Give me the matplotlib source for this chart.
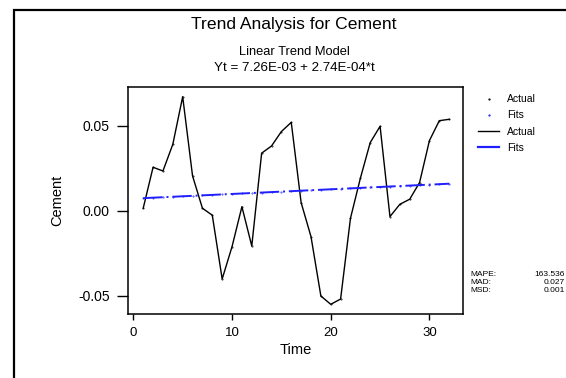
import numpy as np
import matplotlib
matplotlib.use("Agg")
import matplotlib.pyplot as plt
from matplotlib.lines import Line2D
from matplotlib.patches import Rectangle

plt.rcParams['font.family'] = ['Liberation Sans', 'DejaVu Sans']

# data
t = list(range(1, 33))
actual = [0.0016, 0.0257, 0.0235, 0.0392, 0.0672, 0.0206, 0.0016, -0.0025,
          -0.0400, -0.0210, 0.0025, -0.0206, 0.0340, 0.0382, 0.0467, 0.0521,
          0.0049, -0.0151, -0.0500, -0.0549, -0.0518, -0.0043, 0.0192, 0.0402,
          0.0498, -0.0033, 0.0039, 0.0069, 0.0167, 0.0414, 0.0531, 0.0539]
fits = [0.00753, 0.00781, 0.00808, 0.00836, 0.00863, 0.00890, 0.00918, 0.00945,
        0.00973, 0.01000, 0.01027, 0.01055, 0.01082, 0.01110, 0.01137, 0.01164,
        0.01192, 0.01219, 0.01247, 0.01274, 0.01301, 0.01329, 0.01356, 0.01384,
        0.01411, 0.01438, 0.01466, 0.01493, 0.01521, 0.01548, 0.01575, 0.01603]
xticks = [0, 10, 20, 30]
yticks = [-0.05, 0.00, 0.05]
ytick_labels = ['-0.05', '0.00', '0.05']
stat_names = ['MAPE:', 'MAD:', 'MSD:']
stat_values = ['163.536', '0.027', '0.001']

W, H = 566, 378
fig = plt.figure(figsize=(W / 100, H / 100), dpi=100)
ax = fig.add_axes([128 / W, 1 - 314 / H, 335 / W, 227 / H])

blue = '#2020ff'
ax.plot(t, actual, color='black', lw=1.0)
ax.plot(t, fits, color=blue, lw=1.4, dashes=(10, 2, 1, 2))
ax.plot(t, actual, ls='none', marker='.', ms=0.8, color='black')
ax.plot(t, fits, ls='none', marker='.', ms=0.8, color=blue)

# axis formatting
ax.set_xlim(-0.54, 33.4)
ax.set_ylim(-0.0606, 0.0729)
ax.set_xticks(xticks)
ax.set_yticks(yticks)
ax.set_yticklabels(ytick_labels)
ax.tick_params(axis='y', length=8, width=1, labelsize=10, pad=5)
ax.tick_params(axis='x', length=4.5, width=1, labelsize=9.5, pad=5)
for s in ax.spines.values():
    s.set_linewidth(1.1)
ax.set_xlabel('Time', fontsize=10.5, labelpad=3)
ax.set_ylabel('Cement', fontsize=10.5, labelpad=10)

# titles
fig.text(294 / W, 1 - 24 / H, 'Trend Analysis for Cement', ha='center', va='center', fontsize=12.6)
fig.text(294 / W, 1 - 52 / H, 'Linear Trend Model', ha='center', va='center', fontsize=9.3)
fig.text(294 / W, 1 - 68 / H, 'Yt = 7.26E-03 + 2.74E-04*t', ha='center', va='center', fontsize=9.6)

# legend outside
handles = [Line2D([], [], ls='none', marker='.', ms=1.2, color='black'),
           Line2D([], [], ls='none', marker='.', ms=1.2, color=blue),
           Line2D([], [], color='black', lw=1.0),
           Line2D([], [], color=blue, lw=1.6)]
fig.legend(handles, ['Actual', 'Fits', 'Actual', 'Fits'], loc='upper left',
           bbox_to_anchor=(473 / W, 1 - 89 / H), frameon=False, fontsize=7.5,
           handlelength=2.0, handletextpad=0.8, labelspacing=0.6, borderpad=0)

# accuracy measures
for i in range(len(stat_names)):
    y = 1 - (274 + i * 8.2) / H
    fig.text(470 / W, y, stat_names[i], ha='left', va='center', fontsize=6)
    fig.text(565 / W, y, stat_values[i], ha='right', va='center', fontsize=6)

# outer frame
fig.patches.append(Rectangle((14 / W, -0.1), 1.2, 1 - 10 / H + 0.1, transform=fig.transFigure,
                             fill=False, lw=1.6, edgecolor='black'))

fig.savefig('out.png', dpi=100)
